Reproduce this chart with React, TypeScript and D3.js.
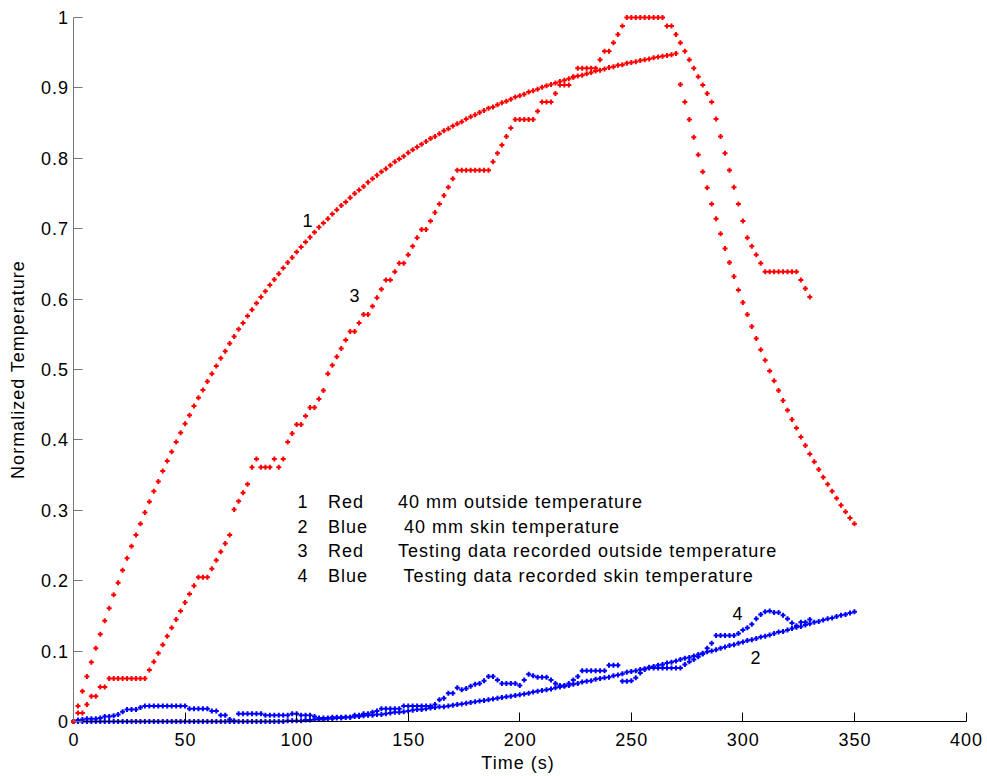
import React from "react";
import * as d3 from "d3";

// sampling interval of every series (s)
const TIME_STEP = 2;

const xTicks = [0, 50, 100, 150, 200, 250, 300, 350, 400];
const xTickLabels = ["0", "50", "100", "150", "200", "250", "300", "350", "400"];
const yTicks = [0, 0.1, 0.2, 0.3, 0.4, 0.5, 0.6, 0.7, 0.8, 0.9, 1];
const yTickLabels = ["0", "0.1", "0.2", "0.3", "0.4", "0.5", "0.6", "0.7", "0.8", "0.9", "1"];

// 1 Red: 40 mm outside temperature (t = 0..350 s)
const outside40mm = [
  0, 0.022, 0.043, 0.064, 0.084, 0.104, 0.124, 0.143, 0.161, 0.180,
  0.197, 0.215, 0.232, 0.249, 0.265, 0.281, 0.297, 0.312, 0.327, 0.341,
  0.356, 0.370, 0.383, 0.397, 0.410, 0.423, 0.435, 0.448, 0.460, 0.471,
  0.483, 0.494, 0.505, 0.516, 0.526, 0.537, 0.547, 0.557, 0.566, 0.576,
  0.585, 0.594, 0.603, 0.611, 0.620, 0.628, 0.636, 0.644, 0.652, 0.659,
  0.667, 0.674, 0.681, 0.688, 0.695, 0.702, 0.708, 0.714, 0.721, 0.727,
  0.733, 0.738, 0.744, 0.750, 0.755, 0.760, 0.766, 0.771, 0.776, 0.781,
  0.785, 0.790, 0.795, 0.799, 0.803, 0.808, 0.812, 0.816, 0.820, 0.824,
  0.828, 0.831, 0.835, 0.839, 0.842, 0.846, 0.849, 0.852, 0.856, 0.859,
  0.862, 0.865, 0.868, 0.871, 0.873, 0.876, 0.879, 0.881, 0.884, 0.887,
  0.889, 0.891, 0.894, 0.896, 0.898, 0.901, 0.903, 0.905, 0.907, 0.909,
  0.911, 0.913, 0.915, 0.917, 0.918, 0.920, 0.922, 0.924, 0.925, 0.927,
  0.929, 0.930, 0.932, 0.933, 0.935, 0.936, 0.937, 0.939, 0.940, 0.941,
  0.943, 0.944, 0.945, 0.946, 0.947, 0.949,
  0.905, 0.880, 0.855, 0.830, 0.805, 0.781, 0.758, 0.735, 0.714, 0.693,
  0.672, 0.652, 0.632, 0.613, 0.595, 0.578, 0.561, 0.544, 0.528, 0.513,
  0.498, 0.484, 0.470, 0.456, 0.442, 0.429, 0.417, 0.404, 0.392, 0.380,
  0.369, 0.358, 0.347, 0.337, 0.327, 0.317, 0.307, 0.298, 0.289, 0.281,
];

// 2 Blue: 40 mm skin temperature (t = 0..350 s)
const skin40mm = [
  0, 0, 0, 0, 0, 0, 0, 0, 0, 0,
  0, 0, 0, 0, 0, 0, 0, 0, 0, 0,
  0, 0, 0, 0, 0, 0, 0, 0, 0, 0,
  0, 0, 0, 0, 0, 0, 0, 0, 0, 0,
  0, 0, 0, 0, 0, 0, 0, 0, 0.001, 0.001,
  0.001, 0.001, 0.002, 0.002, 0.003, 0.003, 0.003, 0.004, 0.004, 0.005,
  0.005, 0.006, 0.006, 0.007, 0.007, 0.008, 0.009, 0.009, 0.010, 0.010,
  0.011, 0.012, 0.013, 0.013, 0.014, 0.015, 0.016, 0.017, 0.017, 0.018,
  0.019, 0.020, 0.021, 0.021, 0.022, 0.023, 0.024, 0.025, 0.026, 0.027,
  0.028, 0.029, 0.030, 0.031, 0.032, 0.033, 0.034, 0.035, 0.036, 0.037,
  0.038, 0.039, 0.040, 0.042, 0.043, 0.044, 0.045, 0.046, 0.048, 0.049,
  0.050, 0.051, 0.053, 0.054, 0.056, 0.057, 0.058, 0.060, 0.061, 0.062,
  0.063, 0.065, 0.066, 0.068, 0.070, 0.071, 0.072, 0.074, 0.075, 0.077,
  0.078, 0.080, 0.081, 0.083, 0.084, 0.086, 0.088, 0.090, 0.091, 0.093,
  0.095, 0.097, 0.099, 0.100, 0.102, 0.104, 0.106, 0.108, 0.109, 0.111,
  0.113, 0.115, 0.116, 0.118, 0.120, 0.121, 0.123, 0.125, 0.127, 0.128,
  0.130, 0.132, 0.134, 0.135, 0.137, 0.139, 0.141, 0.142, 0.144, 0.146,
  0.147, 0.149, 0.151, 0.152, 0.154, 0.156,
];

// 3 Red: testing data recorded outside temperature (t = 0..330 s)
const testOutside = [
  0, 0.012, 0.012, 0.024, 0.036, 0.036, 0.049, 0.049, 0.061, 0.061,
  0.061, 0.061, 0.061, 0.061, 0.061, 0.061, 0.061, 0.073, 0.085, 0.097,
  0.109, 0.121, 0.133, 0.145, 0.157, 0.169, 0.181, 0.193, 0.205, 0.205,
  0.205, 0.217, 0.229, 0.241, 0.253, 0.265, 0.301, 0.313, 0.325, 0.337,
  0.361, 0.373, 0.361, 0.361, 0.361, 0.373, 0.361, 0.373, 0.397, 0.409,
  0.422, 0.422, 0.434, 0.446, 0.446, 0.458, 0.470, 0.494, 0.506, 0.518,
  0.530, 0.542, 0.554, 0.554, 0.566, 0.578, 0.578, 0.590, 0.602, 0.614,
  0.627, 0.627, 0.639, 0.651, 0.651, 0.663, 0.675, 0.687, 0.699, 0.699,
  0.711, 0.723, 0.735, 0.747, 0.759, 0.771, 0.783, 0.783, 0.783, 0.783,
  0.783, 0.783, 0.783, 0.783, 0.795, 0.807, 0.819, 0.831, 0.843, 0.855,
  0.855, 0.855, 0.855, 0.855, 0.867, 0.880, 0.880, 0.880, 0.892, 0.904,
  0.904, 0.904, 0.916, 0.928, 0.928, 0.928, 0.928, 0.928, 0.940, 0.952,
  0.952, 0.964, 0.976, 0.988, 1.0, 1.0, 1.0, 1.0, 1.0, 1.0,
  1.0, 1.0, 1.0, 0.988, 0.988, 0.976, 0.964, 0.952, 0.940, 0.928,
  0.916, 0.904, 0.892, 0.880, 0.856, 0.831, 0.807, 0.783, 0.759, 0.735,
  0.711, 0.687, 0.675, 0.663, 0.651, 0.639, 0.639, 0.639, 0.639, 0.639,
  0.639, 0.639, 0.639, 0.627, 0.615, 0.603,
];

// 4 Blue: testing data recorded skin temperature (t = 0..330 s)
const testSkin = [
  0.000, 0.002, 0.003, 0.004, 0.004, 0.004, 0.005, 0.007, 0.007, 0.008,
  0.010, 0.014, 0.017, 0.017, 0.017, 0.020, 0.022, 0.022, 0.022, 0.022,
  0.022, 0.022, 0.022, 0.022, 0.022, 0.022, 0.018, 0.018, 0.018, 0.018,
  0.018, 0.015, 0.015, 0.009, 0.009, 0.003, 0.001, 0.011, 0.011, 0.011,
  0.011, 0.011, 0.011, 0.009, 0.009, 0.009, 0.009, 0.009, 0.009, 0.011,
  0.011, 0.009, 0.009, 0.009, 0.007, 0.005, 0.005, 0.005, 0.006, 0.006,
  0.006, 0.006, 0.006, 0.009, 0.009, 0.011, 0.011, 0.013, 0.015, 0.018,
  0.018, 0.018, 0.018, 0.018, 0.022, 0.022, 0.022, 0.022, 0.022, 0.022,
  0.022, 0.024, 0.031, 0.033, 0.040, 0.040, 0.048, 0.045, 0.047, 0.050,
  0.053, 0.054, 0.058, 0.064, 0.064, 0.059, 0.054, 0.054, 0.054, 0.054,
  0.051, 0.059, 0.067, 0.065, 0.063, 0.063, 0.063, 0.059, 0.054, 0.051,
  0.051, 0.054, 0.059, 0.064, 0.072, 0.072, 0.072, 0.072, 0.072, 0.072,
  0.080, 0.080, 0.080, 0.057, 0.057, 0.058, 0.062, 0.069, 0.074, 0.076,
  0.076, 0.076, 0.076, 0.076, 0.076, 0.076, 0.076, 0.081, 0.085, 0.088,
  0.092, 0.096, 0.104, 0.111, 0.122, 0.122, 0.122, 0.122, 0.122, 0.125,
  0.130, 0.133, 0.138, 0.146, 0.152, 0.156, 0.157, 0.155, 0.155, 0.151,
  0.146, 0.140, 0.136, 0.141, 0.141, 0.145,
];

const seriesColors = { red: "#ff0000", blue: "#0000ff" };

const legendNumbers = ["1", "2", "3", "4"];
const legendColors = ["Red", "Blue", "Red", "Blue"];
const legendTexts = [
  "40 mm outside temperature",
  "40 mm skin temperature",
  "Testing data recorded outside temperature",
  "Testing data recorded skin temperature",
];

const W = 987;
const H = 776;
const FONT = "'Liberation Sans', Arial, Helvetica, sans-serif";
const FS = 18;
const LS = 1.0;

const x = d3.scaleLinear().domain([0, 400]).range([73.5, 966]);
const y = d3.scaleLinear().domain([0, 1]).range([721.5, 17.5]);

const crisp = (v: number) => Math.floor(v) + 0.5;

function markerPath(values: number[]) {
  const arm = 2.5;
  const p = d3.path();
  values.forEach((v, i) => {
    const cx = x(i * TIME_STEP);
    const cy = y(v);
    p.moveTo(cx - arm, cy);
    p.lineTo(cx + arm, cy);
    p.moveTo(cx, cy - arm);
    p.lineTo(cx, cy + arm);
  });
  return p.toString();
}

export default function App() {
  const x0 = crisp(x(0));
  const yBase = crisp(y(0));
  const tickLen = 9;
  const series = [
    { values: skin40mm, color: seriesColors.blue },
    { values: testSkin, color: seriesColors.blue },
    { values: outside40mm, color: seriesColors.red },
    { values: testOutside, color: seriesColors.red },
  ];
  const legendRowY = [508, 532.5, 557, 581.5];
  const legendTextX = [398, 404, 398, 403.5];

  return (
    <svg
      width={W}
      height={H}
      style={{ position: "absolute", left: 0, top: 0, background: "#fff" }}
      fontFamily={FONT}
    >
      <rect x={0} y={0} width={W} height={H} fill="#fff" />

      {/* series */}
      {series.map((s, i) => (
        <path key={i} d={markerPath(s.values)} stroke={s.color} strokeWidth={2} fill="none" />
      ))}

      {/* x axis */}
      <line x1={x0} x2={crisp(x(400))} y1={yBase} y2={yBase} stroke="#000" strokeWidth={1} />
      {xTicks.map((t, i) => (
        <g key={"xt" + i}>
          <line x1={crisp(x(t))} x2={crisp(x(t))} y1={yBase} y2={yBase - tickLen} stroke="#000" strokeWidth={1} />
          <text x={x(t) + LS / 2} y={746} textAnchor="middle" fontSize={FS} letterSpacing={LS} fill="#000">
            {xTickLabels[i]}
          </text>
        </g>
      ))}

      {/* y axis */}
      <line x1={x0} x2={x0} y1={yBase} y2={crisp(y(1))} stroke="#777" strokeWidth={1} />
      {yTicks.map((t, i) => (
        <g key={"yt" + i}>
          <line x1={x0} x2={x0 + tickLen} y1={crisp(y(t))} y2={crisp(y(t))} stroke="#777" strokeWidth={1} />
          <text x={69} y={y(t) + 6.4} textAnchor="end" fontSize={FS} letterSpacing={LS} fill="#000">
            {yTickLabels[i]}
          </text>
        </g>
      ))}

      {/* axis labels */}
      <text x={518} y={769} textAnchor="middle" fontSize={FS} letterSpacing={LS} fill="#000">
        Time (s)
      </text>
      <text
        transform={`translate(24,${y(0.5)}) rotate(-90)`}
        textAnchor="middle"
        fontSize={FS}
        letterSpacing={LS}
        fill="#000"
      >
        Normalized Temperature
      </text>

      {/* curve labels */}
      <text x={302.5} y={226.5} fontSize={FS} fill="#000">1</text>
      <text x={750.5} y={664} fontSize={FS} fill="#000">2</text>
      <text x={349.5} y={301.5} fontSize={FS} fill="#000">3</text>
      <text x={732.5} y={620} fontSize={FS} fill="#000">4</text>

      {/* legend text */}
      {legendNumbers.map((n, i) => (
        <g key={"lg" + i} fontSize={FS} letterSpacing={LS} fill="#000">
          <text x={297.5} y={legendRowY[i]}>{n}</text>
          <text x={328} y={legendRowY[i]}>{legendColors[i]}</text>
          <text x={legendTextX[i]} y={legendRowY[i]}>{legendTexts[i]}</text>
        </g>
      ))}
    </svg>
  );
}
